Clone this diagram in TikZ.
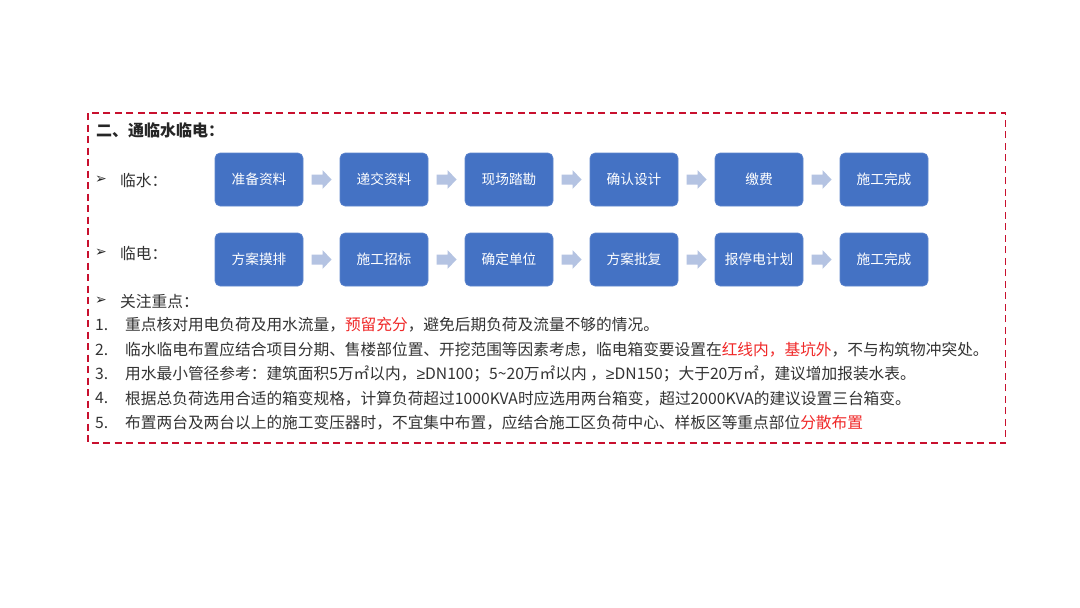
\documentclass[tikz,border=0pt]{standalone}
\usepackage{fontspec}
\newfontfamily\cjk{Noto Sans CJK SC}
\newfontfamily\dejavu{DejaVu Sans}
\newfontfamily\libsans{Liberation Sans}
\usetikzlibrary{calc}
\definecolor{boxblue}{HTML}{4472C4}
\definecolor{arrowblue}{HTML}{B4C3E2}
\definecolor{framered}{HTML}{C8102E}
\definecolor{txt}{HTML}{333333}
\definecolor{hl}{HTML}{F02828}
\newcommand{\mygeq}{{\libsans ≥}}
\tikzset{
  stepbox/.style={fill=boxblue, draw=boxblue!85!white, line width=0.6pt, rounded corners=5pt,
    minimum width=88pt, minimum height=53pt, inner sep=0pt, text=white,
    font=\cjk\fontsize{13.7}{15}\selectfont},
  txtline/.style={anchor=west, inner sep=0pt, text=txt, font=\cjk\fontsize{15.7}{18}\selectfont},
  numlabel/.style={anchor=west, inner sep=0pt, text=txt, font=\cjk\fontsize{15.7}{18}\selectfont},
  bulletmark/.style={anchor=west, inner sep=0pt, text=black!85, font=\dejavu\fontsize{14}{16}\selectfont},
  arrowfill/.style={fill=arrowblue}
}
\newcommand{\blockarrow}[2]{%
  \coordinate (m) at ($(#1.east)!0.5!(#2.west)$);
  \fill[arrowfill, shift={(m)}] (-10,-5) -- (1,-5) -- (1,-9.5) -- (10,0) -- (1,9.5) -- (1,5) -- (-10,5) -- cycle;
}
\begin{document}
\begin{tikzpicture}[x=1pt,y=-1pt]
\useasboundingbox (0,0) rectangle (1080,608);
\fill[white] (0,0) rectangle (1080,608);
% frame
\draw[framered, line width=1.6pt, dash pattern=on 7pt off 4.5pt] (88,113) rectangle (1005.5,443);
% heading
\node[txtline, text=black!85, font=\cjk\bfseries\fontsize{16}{18}\selectfont] (head) at (96,130) {二、通临水临电：};
% row labels
\node[bulletmark] (b1) at (95,180) {➢};
\node[txtline] (l1) at (120,180) {临水：};
\node[bulletmark] (b2) at (95,253) {➢};
\node[txtline] (l2) at (120,253) {临电：};
\node[bulletmark] (b3) at (95,301) {➢};
\node[txtline] (l3) at (120,301) {关注重点：};
% row 1
\node[stepbox] (a1) at (259,179.5) {准备资料};
\node[stepbox] (a2) at (384,179.5) {递交资料};
\node[stepbox] (a3) at (509,179.5) {现场踏勘};
\node[stepbox] (a4) at (634,179.5) {确认设计};
\node[stepbox] (a5) at (759,179.5) {缴费};
\node[stepbox] (a6) at (884,179.5) {施工完成};
% row 2
\node[stepbox] (c1) at (259,259.5) {方案摸排};
\node[stepbox] (c2) at (384,259.5) {施工招标};
\node[stepbox] (c3) at (509,259.5) {确定单位};
\node[stepbox] (c4) at (634,259.5) {方案批复};
\node[stepbox] (c5) at (759,259.5) {报停电计划};
\node[stepbox] (c6) at (884,259.5) {施工完成};
\blockarrow{a1}{a2}\blockarrow{a2}{a3}\blockarrow{a3}{a4}\blockarrow{a4}{a5}\blockarrow{a5}{a6}
\blockarrow{c1}{c2}\blockarrow{c2}{c3}\blockarrow{c3}{c4}\blockarrow{c4}{c5}\blockarrow{c5}{c6}
% list
\node[numlabel] (n1) at (95,325) {1.};
\node[txtline] (t1) at (125,325) {重点核对用电负荷及用水流量，\textcolor{hl}{预留充分}，避免后期负荷及流量不够的情况。};
\node[numlabel] (n2) at (95,349.5) {2.};
\node[txtline] (t2) at (125,349.5) {临水临电布置应结合项目分期、售楼部位置、开挖范围等因素考虑，临电箱变要设置在\textcolor{hl}{红线内，基坑外}，不与构筑物冲突处。};
\node[numlabel] (n3) at (95,374) {3.};
\node[txtline] (t3) at (125,374) {用水最小管径参考：建筑面积5万㎡以内，\mygeq DN100；5\textasciitilde 20万㎡以内 ，\mygeq DN150；大于20万㎡，建议增加报装水表。};
\node[numlabel] (n4) at (95,398.5) {4.};
\node[txtline] (t4) at (125,398.5) {根据总负荷选用合适的箱变规格，计算负荷超过1000KVA时应选用两台箱变，超过2000KVA的建议设置三台箱变。};
\node[numlabel] (n5) at (95,423) {5.};
\node[txtline] (t5) at (125,423) {布置两台及两台以上的施工变压器时，不宜集中布置，应结合施工区负荷中心、样板区等重点部位\textcolor{hl}{分散布置}};
\end{tikzpicture}
\end{document}
